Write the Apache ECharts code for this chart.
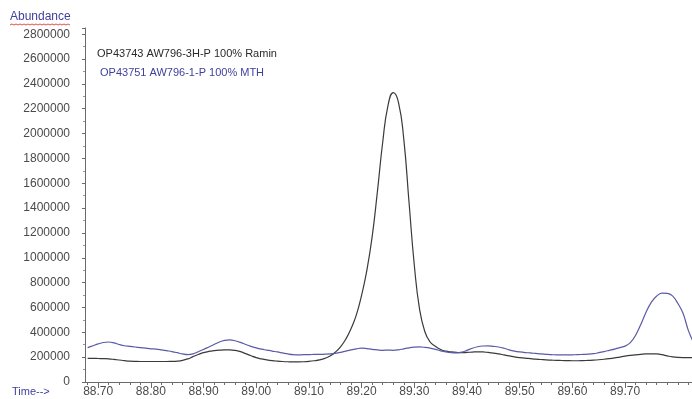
<!DOCTYPE html>
<html>
<head>
<meta charset="utf-8">
<script src="https://cdn.jsdelivr.net/npm/echarts@6/dist/echarts.min.js"></script>
<style>
  html, body { margin: 0; padding: 0; background: #fff; }
  #chart { width: 692px; height: 399px; }
</style>
</head>
<body>
<div id="chart"></div>
<script>
// Retention time (min), sampled every 0.01
const times = [
  88.68, 88.69, 88.70, 88.71, 88.72, 88.73, 88.74, 88.75, 88.76, 88.77,
  88.78, 88.79, 88.80, 88.81, 88.82, 88.83, 88.84, 88.85, 88.86, 88.87,
  88.88, 88.89, 88.90, 88.91, 88.92, 88.93, 88.94, 88.95, 88.96, 88.97,
  88.98, 88.99, 89.00, 89.01, 89.02, 89.03, 89.04, 89.05, 89.06, 89.07,
  89.08, 89.09, 89.10, 89.11, 89.12, 89.13, 89.14, 89.15, 89.16, 89.17,
  89.18, 89.19, 89.20, 89.21, 89.22, 89.23, 89.24, 89.25, 89.26, 89.27,
  89.28, 89.29, 89.30, 89.31, 89.32, 89.33, 89.34, 89.35, 89.36, 89.37,
  89.38, 89.39, 89.40, 89.41, 89.42, 89.43, 89.44, 89.45, 89.46, 89.47,
  89.48, 89.49, 89.50, 89.51, 89.52, 89.53, 89.54, 89.55, 89.56, 89.57,
  89.58, 89.59, 89.60, 89.61, 89.62, 89.63, 89.64, 89.65, 89.66, 89.67,
  89.68, 89.69, 89.70, 89.71, 89.72, 89.73, 89.74, 89.75, 89.76, 89.77,
  89.78, 89.79, 89.80, 89.81, 89.82, 89.83
];

// OP43743 AW796-3H-P 100% Ramin
const ramin = [
  190000, 190000, 189000, 188000, 186000, 182000, 177000, 172000, 168000, 166000,
  165000, 165000, 165000, 165000, 165000, 165000, 166000, 168000, 174000, 186000,
  204000, 221000, 236000, 246000, 252000, 256000, 258000, 258000, 254000, 244000,
  228000, 211000, 196000, 186000, 178000, 172000, 168000, 165000, 163000, 162000,
  162000, 163000, 166000, 171000, 178000, 190000, 210000, 240000, 283000, 345000,
  430000, 540000, 700000, 900000, 1170000, 1535000, 1930000, 2225000, 2330000, 2250000,
  1955000, 1445000, 940000, 585000, 405000, 322000, 287000, 262000, 248000, 242000,
  238000, 236000, 238000, 241000, 243000, 242000, 238000, 233000, 226000, 218000,
  210000, 203000, 197000, 192000, 188000, 184000, 181000, 178000, 176000, 174000,
  173000, 172000, 171000, 171000, 172000, 174000, 176000, 179000, 183000, 188000,
  194000, 201000, 208000, 214000, 219000, 223000, 226000, 227000, 226000, 220000,
  210000, 202000, 198000, 197000, 197000, 197000
];

// OP43751 AW796-1-P 100% MTH
const mth = [
  277000, 292000, 307000, 318000, 322000, 315000, 302000, 292000, 287000, 282000,
  277000, 272000, 267000, 265000, 259000, 252000, 245000, 236000, 226000, 220000,
  226000, 243000, 262000, 282000, 302000, 322000, 335000, 339000, 332000, 319000,
  302000, 287000, 275000, 265000, 257000, 249000, 242000, 234000, 226000, 220000,
  218000, 220000, 220000, 223000, 222000, 224000, 226000, 230000, 238000, 249000,
  259000, 267000, 273000, 269000, 263000, 259000, 255000, 257000, 255000, 259000,
  267000, 275000, 280000, 282000, 279000, 273000, 263000, 251000, 242000, 236000,
  234000, 240000, 255000, 272000, 284000, 290000, 291000, 287000, 282000, 272000,
  259000, 249000, 242000, 237000, 234000, 230000, 226000, 223000, 220000, 218000,
  218000, 218000, 219000, 220000, 222000, 224000, 228000, 236000, 245000, 255000,
  265000, 277000, 289000, 317000, 376000, 465000, 564000, 643000, 693000, 715000,
  713000, 693000, 634000, 554000, 416000, 317000
];

const seriesNames = ['OP43743 AW796-3H-P 100% Ramin', 'OP43751 AW796-1-P 100% MTH'];
const xLabelValues = [88.70, 88.80, 88.90, 89.00, 89.10, 89.20, 89.30, 89.40, 89.50, 89.60, 89.70];
const xMinorTickValues = [];
for (let i = 0; i <= 57; i++) xMinorTickValues.push(+(88.68 + i * 0.02).toFixed(2));

const X_MIN = 88.675, X_MAX = 89.827;
const font = "'Liberation Sans', Arial, sans-serif";
const blueText = '#3f3f9e';
const axisGrey = '#6a6a6a';
const labelGrey = '#4a4a4a';

const pair = (vals) => times.map((t, i) => [t, vals[i]]);

const chart = echarts.init(document.getElementById('chart'), null, { renderer: 'canvas' });

chart.setOption({
  animation: false,
  backgroundColor: '#fff',
  grid: { left: 85, right: 0, top: 28, bottom: 17, containLabel: false },
  xAxis: [
    {
      type: 'value', min: X_MIN, max: X_MAX,
      axisLine: { show: true, lineStyle: { color: axisGrey, width: 1 } },
      axisTick: { show: true, customValues: xMinorTickValues, length: 3, lineStyle: { color: axisGrey } },
      axisLabel: {
        show: true, customValues: xLabelValues, margin: 4,
        fontFamily: font, fontSize: 12, color: labelGrey,
        formatter: (v) => v.toFixed(2)
      },
      splitLine: { show: false }
    },
    {
      type: 'value', min: X_MIN, max: X_MAX, position: 'bottom',
      axisLine: { show: false },
      axisTick: { show: true, customValues: xLabelValues, length: 6, lineStyle: { color: axisGrey } },
      axisLabel: { show: false },
      splitLine: { show: false }
    }
  ],
  yAxis: {
    type: 'value', min: 0, max: 2850000, interval: 200000,
    axisLine: { show: true, lineStyle: { color: axisGrey, width: 1 } },
    axisTick: { show: true, length: 3, lineStyle: { color: axisGrey } },
    minorTick: { show: true, splitNumber: 2, length: 2, lineStyle: { color: '#999' } },
    axisLabel: {
      margin: 15, fontFamily: font, fontSize: 12, color: labelGrey,
      showMaxLabel: false, padding: [5, 0, 0, 0],
      formatter: (v) => String(v)
    },
    splitLine: { show: false }
  },
  series: [
    {
      name: seriesNames[0], type: 'line', xAxisIndex: 0, data: pair(ramin),
      showSymbol: false, smooth: 0.5, clip: true,
      lineStyle: { color: '#3a3a3a', width: 1.2 }
    },
    {
      name: seriesNames[1], type: 'line', xAxisIndex: 0, data: pair(mth),
      showSymbol: false, smooth: 0.4, clip: true,
      lineStyle: { color: '#5a5aa6', width: 1.2 }
    }
  ],
  graphic: [
    { type: 'text', left: 10, top: 11,
      style: { text: 'Abundance', fontFamily: font, fontSize: 12, fill: blueText } },
    { type: 'polyline', silent: true,
      shape: { points: [[10,25],[12,24],[14,25],[16,24],[18,25],[20,24],[22,25],[24,24],[26,25],[28,24],[30,25],[32,24],[34,25],[36,24],[38,25],[40,24],[42,25],[44,24],[46,25],[48,24],[50,25],[52,24],[54,25],[56,24],[58,25],[60,24],[62,25],[64,24],[66,25],[68,24],[70,25]] },
      style: { stroke: '#e05050', lineWidth: 1, fill: null } },
    { type: 'text', left: 12, top: 386,
      style: { text: 'Time-->', fontFamily: font, fontSize: 11, fill: blueText } },
    { type: 'text', left: 97, top: 48,
      style: { text: seriesNames[0], fontFamily: font, fontSize: 11, fill: '#2a2a2a' } },
    { type: 'text', left: 100, top: 67,
      style: { text: seriesNames[1], fontFamily: font, fontSize: 11, fill: blueText } }
  ]
});
</script>
</body>
</html>
